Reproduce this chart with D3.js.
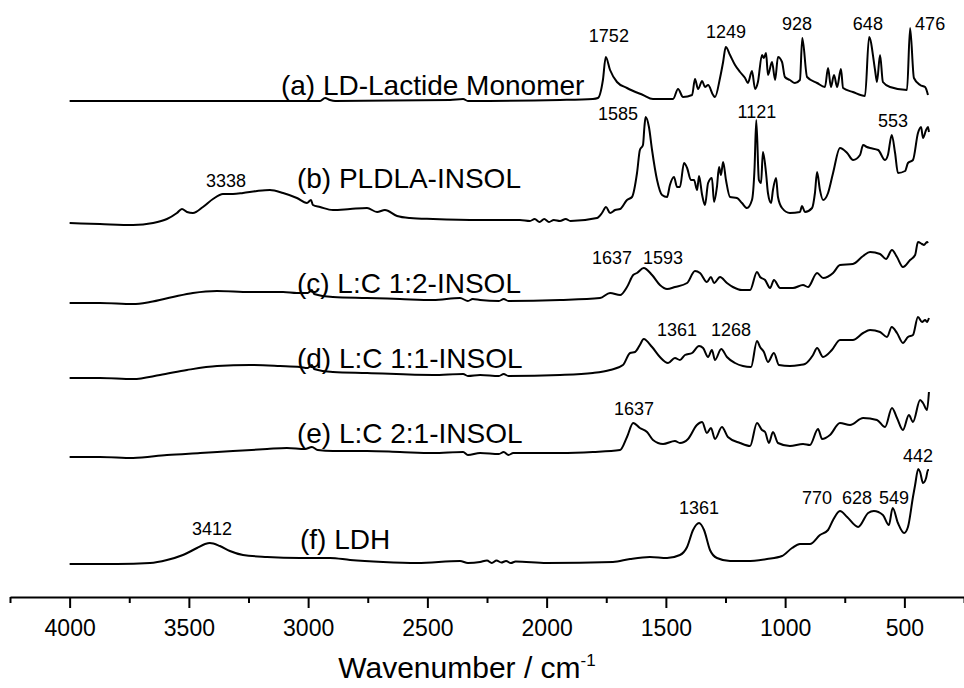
<!DOCTYPE html>
<meta charset="utf-8">
<style>
  body { margin: 0; background: #fff; }
  svg text { font-family: "Liberation Sans", Arial, sans-serif; fill: #000; }
  .trace { fill: none; stroke: #000; stroke-width: 2; stroke-linejoin: round; }
  .axis path, .axis line { stroke: #000; }
</style>
<script src="https://d3js.org/d3.v7.min.js"></script>
<body>
<script>

// spectra: [wavenumber (cm-1), absorbance above the trace's own baseline]
var spectrumA = [[4000,0],[3453,0],[2950,0],[2929,0.03],[2908,0.01],[2887,0],[2405,0.01],[2350,0.02],[2330,0],
  [1944,0.01],[1806,0.02],
  [1785,0.03],[1764,0.21],[1752,0.44],[1734,0.31],[1705,0.19],[1663,0.13],[1596,0.06],[1554,0.02],[1470,0.02],
  [1449,0.12],[1428,0.04],[1390,0.06],[1378,0.22],[1365,0.12],[1348,0.20],[1336,0.14],[1323,0.16],[1302,0.06],
  [1294,0.04],[1273,0.23],[1260,0.39],[1249,0.54],[1231,0.46],[1210,0.36],[1189,0.29],[1168,0.23],[1156,0.18],
  [1139,0.30],[1126,0.12],[1114,0.19],[1097,0.46],[1089,0.43],[1080,0.48],[1072,0.26],[1055,0.39],[1042,0.21],
  [1030,0.44],[1013,0.39],[1001,0.24],[980,0.21],[959,0.18],[938,0.21],[928,0.63],[908,0.24],[866,0.18],
  [833,0.14],[820,0.33],[808,0.14],[795,0.26],[782,0.14],[766,0.32],[757,0.13],[716,0.09],[665,0.05],
  [648,0.64],[623,0.31],[615,0.19],[602,0.46],[590,0.19],[560,0.14],[489,0.11],[476,0.73],[460,0.23],
  [434,0.16],[413,0.14],[401,0.06]];

var spectrumB = [[4000,0.01],[3873,0],[3734,-0.01],[3650,0.01],[3592,0.05],[3550,0.11],[3529,0.15],[3508,0.12],
  [3483,0.11],[3441,0.17],[3399,0.25],[3357,0.30],[3315,0.30],[3273,0.31],[3214,0.33],[3160,0.34],[3105,0.31],
  [3047,0.26],[3005,0.21],[2988,0.24],[2980,0.19],[2950,0.17],[2896,0.14],[2824,0.15],[2753,0.16],[2711,0.12],
  [2678,0.14],[2627,0.08],[2573,0.06],[2476,0.05],[2279,0.04],[2112,0.04],[2070,0.03],[2050,0.05],[2030,0.02],
  [2010,0.05],[1990,0.02],[1970,0.04],[1944,0.03],[1920,0.05],[1900,0.03],[1789,0.06],[1768,0.11],
  [1751,0.17],[1734,0.11],[1713,0.14],[1692,0.15],[1663,0.24],[1642,0.27],[1621,0.51],[1609,0.74],[1596,0.79],
  [1590,0.97],[1585,1.07],[1571,0.97],[1558,0.74],[1537,0.44],[1516,0.29],[1495,0.27],[1483,0.39],[1466,0.47],
  [1453,0.37],[1441,0.37],[1424,0.61],[1411,0.56],[1395,0.44],[1382,0.44],[1369,0.34],[1361,0.48],[1348,0.29],
  [1336,0.19],[1323,0.41],[1307,0.46],[1298,0.22],[1286,0.37],[1277,0.57],[1269,0.49],[1260,0.62],[1248,0.44],
  [1231,0.27],[1202,0.26],[1181,0.21],[1160,0.16],[1139,0.24],[1128,0.57],[1121,1.04],[1110,0.44],[1101,0.41],
  [1093,0.72],[1080,0.51],[1072,0.31],[1059,0.21],[1051,0.34],[1038,0.46],[1030,0.27],[1013,0.16],[980,0.11],
  [938,0.12],[929,0.18],[917,0.12],[887,0.16],[875,0.31],[866,0.52],[854,0.34],[841,0.24],[820,0.31],[799,0.51],
  [770,0.76],[740,0.71],[715,0.64],[686,0.69],[673,0.79],[657,0.77],[644,0.76],[610,0.74],[581,0.64],[569,0.69],
  [553,0.89],[539,0.71],[527,0.51],[497,0.53],[485,0.61],[464,0.64],[443,0.91],[430,0.97],[422,0.86],[409,0.94],
  [401,0.97],[397,0.92]];

var spectrumC = [[4000,0],[3873,0],[3734,-0.01],[3663,0.01],[3567,0.06],[3483,0.10],[3382,0.12],[3244,0.11],
  [3105,0.11],[3047,0.10],[3002,0.10],[2984,0.13],[2975,0.09],[2896,0.06],[2753,0.05],[2615,0.04],[2476,0.03],
  [2363,0.05],[2330,0.02],[2310,0.04],[2279,0.03],[2200,0.02],[2180,0.04],[2160,0.02],[1944,0.03],[1776,0.05],
  [1734,0.10],[1692,0.08],[1663,0.16],[1637,0.28],[1621,0.30],
  [1593,0.35],[1558,0.28],[1525,0.18],[1495,0.14],[1462,0.16],[1411,0.20],[1378,0.32],[1357,0.30],[1328,0.21],
  [1311,0.26],[1298,0.20],[1273,0.26],[1244,0.20],[1219,0.16],[1181,0.13],[1147,0.13],[1118,0.31],[1105,0.26],
  [1084,0.23],[1063,0.15],[1047,0.23],[1021,0.15],[967,0.15],[925,0.18],[904,0.16],[866,0.30],[841,0.25],
  [799,0.30],[770,0.38],[716,0.39],[673,0.47],[644,0.51],[602,0.49],[577,0.44],[552,0.53],[531,0.46],[506,0.36],
  [476,0.43],[455,0.48],[443,0.61],[426,0.59],[418,0.58],[405,0.61],[401,0.60]];

var spectrumD = [[4000,0],[3873,0],[3734,-0.01],[3621,0.03],[3508,0.08],[3382,0.12],[3244,0.13],[3118,0.12],
  [3034,0.11],[3002,0.10],[2984,0.13],[2975,0.09],[2896,0.06],[2753,0.05],[2476,0.03],[2350,0.04],[2330,0.02],
  [2279,0.03],[2200,0.02],[2180,0.04],[2160,0.02],[1944,0.03],
  [1806,0.05],[1734,0.08],[1680,0.13],[1650,0.25],[1629,0.26],[1609,0.33],[1593,0.39],[1558,0.31],[1525,0.21],
  [1491,0.15],[1462,0.20],[1441,0.18],[1420,0.23],[1390,0.25],[1361,0.32],[1344,0.30],[1323,0.21],[1307,0.28],
  [1294,0.18],[1268,0.29],[1244,0.21],[1210,0.15],[1177,0.12],[1143,0.11],[1118,0.37],[1105,0.31],[1089,0.26],
  [1072,0.16],[1047,0.25],[1026,0.13],[980,0.12],[938,0.13],[917,0.14],[883,0.23],[866,0.30],[841,0.21],
  [804,0.28],[770,0.38],[716,0.38],[673,0.45],[644,0.48],[602,0.46],[573,0.41],[553,0.51],[531,0.45],[506,0.35],
  [485,0.41],[464,0.43],[443,0.61],[426,0.56],[413,0.58],[405,0.56],[397,0.60]];

var spectrumE = [[4000,0],[3873,0],[3734,-0.01],[3592,0.02],[3453,0.04],[3315,0.06],[3172,0.08],[3089,0.09],
  [3013,0.08],[2984,0.10],[2960,0.07],[2896,0.06],[2753,0.06],[2615,0.05],[2476,0.04],[2350,0.05],[2330,0.02],
  [2279,0.04],[2200,0.03],[2180,0.05],[2160,0.02],[2140,0.04],[1944,0.04],
  [1806,0.05],[1692,0.07],[1663,0.20],[1637,0.34],[1609,0.29],[1579,0.25],[1554,0.17],[1512,0.13],[1462,0.16],
  [1441,0.14],[1407,0.18],[1370,0.32],[1348,0.35],[1328,0.24],[1311,0.29],[1294,0.18],[1265,0.30],[1240,0.20],
  [1189,0.14],[1147,0.11],[1118,0.34],[1097,0.27],[1084,0.25],[1068,0.14],[1051,0.25],[1030,0.14],[980,0.11],
  [925,0.13],[896,0.12],[862,0.28],[845,0.18],[812,0.22],[770,0.34],[728,0.32],[673,0.39],[615,0.37],[581,0.30],
  [552,0.49],[531,0.39],[506,0.27],[481,0.42],[464,0.35],[434,0.57],[422,0.54],[405,0.47],[397,0.65]];

var spectrumF = [[4000,0],[3801,0],[3663,0.01],[3592,0.04],[3525,0.09],[3466,0.16],[3432,0.20],[3412,0.21],
  [3370,0.18],[3328,0.13],[3273,0.09],[3172,0.07],[3034,0.06],[2908,0.06],[2824,0.04],[2686,0.02],[2543,0.01],
  [2363,0.03],[2330,0.01],[2279,0.02],[2250,0.035],[2230,0.01],[2210,0.035],[2190,0.015],[2170,0.03],
  [2150,0.01],[2130,0.025],[2000,0.01],[1722,0.02],[1650,0.05],[1567,0.07],[1495,0.06],[1441,0.09],[1411,0.17],
  [1386,0.34],[1361,0.41],[1340,0.34],[1315,0.14],[1286,0.06],[1231,0.03],[1160,0.03],[1076,0.05],[1013,0.08],
  [971,0.16],[938,0.20],[896,0.20],[854,0.29],[820,0.34],[799,0.44],[770,0.53],[740,0.47],[694,0.37],[652,0.51],
  [628,0.53],[590,0.49],[565,0.39],[549,0.56],[527,0.41],[501,0.31],[485,0.37],[464,0.67],[455,0.79],[442,0.95],
  [434,0.92],[422,0.81],[409,0.86],[401,0.94],[397,0.94]];

var spectra = [spectrumA, spectrumB, spectrumC, spectrumD, spectrumE, spectrumF];
var baselines = [4.96, 3.73, 2.94, 2.19, 1.40, 0.33];   // vertical stacking offsets

var sampleNames = ["(a) LD-Lactide Monomer", "(b) PLDLA-INSOL", "(c) L:C 1:2-INSOL",
                   "(d) L:C 1:1-INSOL", "(e) L:C 2:1-INSOL", "(f) LDH"];
var sampleNameAnchors = [[3114, 5.02], [3047, 4.09], [3047, 3.04], [3047, 2.29], [3047, 1.54], [3034, 0.48]];

// peak annotations: [text, wavenumber, level]
var peakLabels = [["1752", 1739, 5.55], ["1249", 1248, 5.59], ["928", 950, 5.67], ["648", 653, 5.67],
  ["476", 392, 5.67], ["1585", 1701, 4.77], ["1121", 1118, 4.79], ["553", 548, 4.70], ["3338", 3344, 4.10],
  ["1637", 1726, 3.33], ["1593", 1512, 3.33], ["1361", 1453, 2.61], ["1268", 1227, 2.61], ["1637", 1634, 1.82],
  ["442", 443, 1.35], ["3412", 3403, 0.62], ["1361", 1361, 0.83], ["770", 866, 0.93], ["628", 699, 0.93],
  ["549", 543, 0.93]];

var majorTicks = [4000, 3500, 3000, 2500, 2000, 1500, 1000, 500];
var minorTicks = [4250, 3750, 3250, 2750, 2250, 1750, 1250, 750, 250];

var width = 964, height = 688;
var axisY = 597;

var svg = d3.select("body").append("svg")
    .attr("width", width)
    .attr("height", height);

var x = d3.scaleLinear().domain([4250, 250]).range([10, 964]);
var y = d3.scaleLinear().domain([0, 6]).range([axisY, axisY - 600]);

var line = d3.line()
    .x(function(d) { return x(d[0]); })
    .y(function(d) { return y(d[1]); })
    .curve(d3.curveMonotoneX);

spectra.forEach(function(s, i) {
  svg.append("path")
      .attr("class", "trace")
      .attr("d", line(s.map(function(p) { return [p[0], p[1] + baselines[i]]; })));
});

svg.selectAll(".name")
    .data(sampleNames)
    .enter().append("text")
    .attr("class", "name")
    .attr("x", function(d, i) { return x(sampleNameAnchors[i][0]); })
    .attr("y", function(d, i) { return y(sampleNameAnchors[i][1]); })
    .attr("font-size", 28)
    .text(function(d) { return d; });

svg.selectAll(".peak")
    .data(peakLabels)
    .enter().append("text")
    .attr("class", "peak")
    .attr("x", function(d) { return x(d[1]); })
    .attr("y", function(d) { return y(d[2]); })
    .attr("text-anchor", "middle")
    .attr("font-size", 18)
    .text(function(d) { return d[0]; });

// x axis, major ticks labelled, minor ticks plain
var axis = svg.append("g")
    .attr("class", "axis")
    .attr("transform", "translate(0," + axisY + ")")
    .call(d3.axisBottom(x).tickValues(majorTicks).tickSize(11).tickSizeOuter(0).tickPadding(12)
      .tickFormat(d3.format("d")));
axis.select(".domain").attr("stroke-width", 2);
axis.selectAll(".tick line").attr("stroke-width", 2);
axis.selectAll(".tick text").attr("font-size", 23).attr("font-family", "Liberation Sans, Arial, sans-serif");

svg.append("g")
    .attr("class", "axis")
    .attr("transform", "translate(0," + axisY + ")")
    .call(d3.axisBottom(x).tickValues(minorTicks).tickSize(6).tickSizeOuter(0).tickFormat(""))
    .call(function(g) { g.select(".domain").remove(); })
    .selectAll(".tick line").attr("stroke-width", 2);

var title = svg.append("text")
    .attr("x", 467)
    .attr("y", 678)
    .attr("text-anchor", "middle")
    .attr("font-size", 30);
title.append("tspan").text("Wavenumber / cm");
title.append("tspan").attr("dy", -12).attr("font-size", 17).text("-1");

</script>
</body>
